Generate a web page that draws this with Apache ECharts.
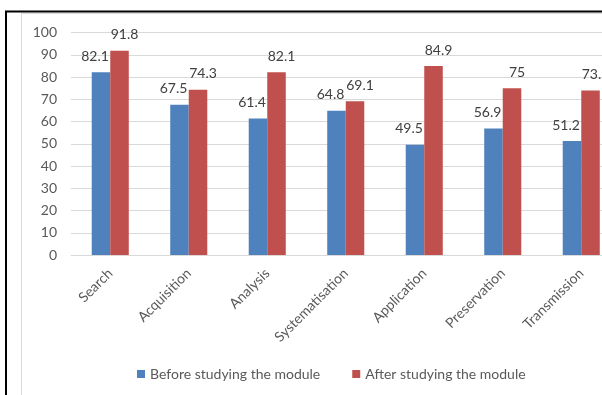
<!DOCTYPE html>
<html>
<head>
<meta charset="utf-8">
<script src="https://cdn.jsdelivr.net/npm/echarts@6/dist/echarts.min.js"></script>
<style>
  html, body { margin: 0; padding: 0; background: #ffffff; }
  #chart { width: 602px; height: 395px; }
</style>
</head>
<body>
<div id="chart"></div>
<script>
// Information-handling skills, before and after the module (%)
const categories = ['Search', 'Acquisition', 'Analysis', 'Systematisation', 'Application', 'Preservation', 'Transmission'];
const beforeValues = [82.1, 67.5, 61.4, 64.8, 49.5, 56.9, 51.2];
const afterValues = [91.8, 74.3, 82.1, 69.1, 84.9, 75, 73.9];
const yTicks = { min: 0, max: 100, step: 10 };
const seriesNames = ['Before studying the module', 'After studying the module'];

const FONT = 'Lato, "Liberation Sans", sans-serif';
const chart = echarts.init(document.getElementById('chart'), null, { renderer: 'canvas' });

chart.setOption({
  animation: false,
  backgroundColor: '#ffffff',
  textStyle: { fontFamily: FONT },
  graphic: [
    // outer frame (left and top edges visible)
    { type: 'rect', shape: { x: 6, y: 11.5, width: 700, height: 500 },
      style: { fill: 'none', stroke: '#000000', lineWidth: 2 }, z: 10 },
    // chart area border
    { type: 'rect', shape: { x: 21.5, y: 13.5, width: 700, height: 500 },
      style: { fill: 'none', stroke: '#D9D9D9', lineWidth: 1 }, z: 9 }
  ],
  // plot area runs past the right edge of the canvas
  grid: { left: 71, width: 549.5, top: 32.5, bottom: 140, containLabel: false, outerBoundsMode: 'none' },
  legend: {
    left: 132, top: 362,
    itemWidth: 8, itemHeight: 8, itemGap: 32,
    icon: 'rect',
    textStyle: { color: '#595959', fontSize: 14, fontFamily: FONT },
    data: seriesNames
  },
  xAxis: {
    type: 'category',
    data: categories,
    axisLine: { lineStyle: { color: '#D9D9D9', width: 1 } },
    axisTick: { show: false },
    axisLabel: { rotate: 45, margin: 16, color: '#595959', fontSize: 14, fontFamily: FONT, interval: 0 }
  },
  yAxis: {
    type: 'value',
    min: yTicks.min, max: yTicks.max, interval: yTicks.step,
    axisLine: { show: false },
    axisTick: { show: false },
    splitLine: { lineStyle: { color: '#D9D9D9', width: 1 } },
    axisLabel: { margin: 14, color: '#595959', fontSize: 14, fontFamily: FONT }
  },
  series: [
    {
      name: seriesNames[0], type: 'bar', data: beforeValues,
      barWidth: '23.6%', barGap: '0%',
      itemStyle: { color: '#4F81BD' },
      label: { show: true, position: 'top', distance: 9, offset: [-6, 0],
               color: '#404040', fontSize: 14, fontFamily: FONT }
    },
    {
      name: seriesNames[1], type: 'bar', data: afterValues,
      barWidth: '23.6%', barGap: '0%',
      itemStyle: { color: '#C0504D' },
      label: { show: true, position: 'top', distance: 9, offset: [5, 0],
               color: '#404040', fontSize: 14, fontFamily: FONT }
    }
  ]
});
</script>
</body>
</html>
